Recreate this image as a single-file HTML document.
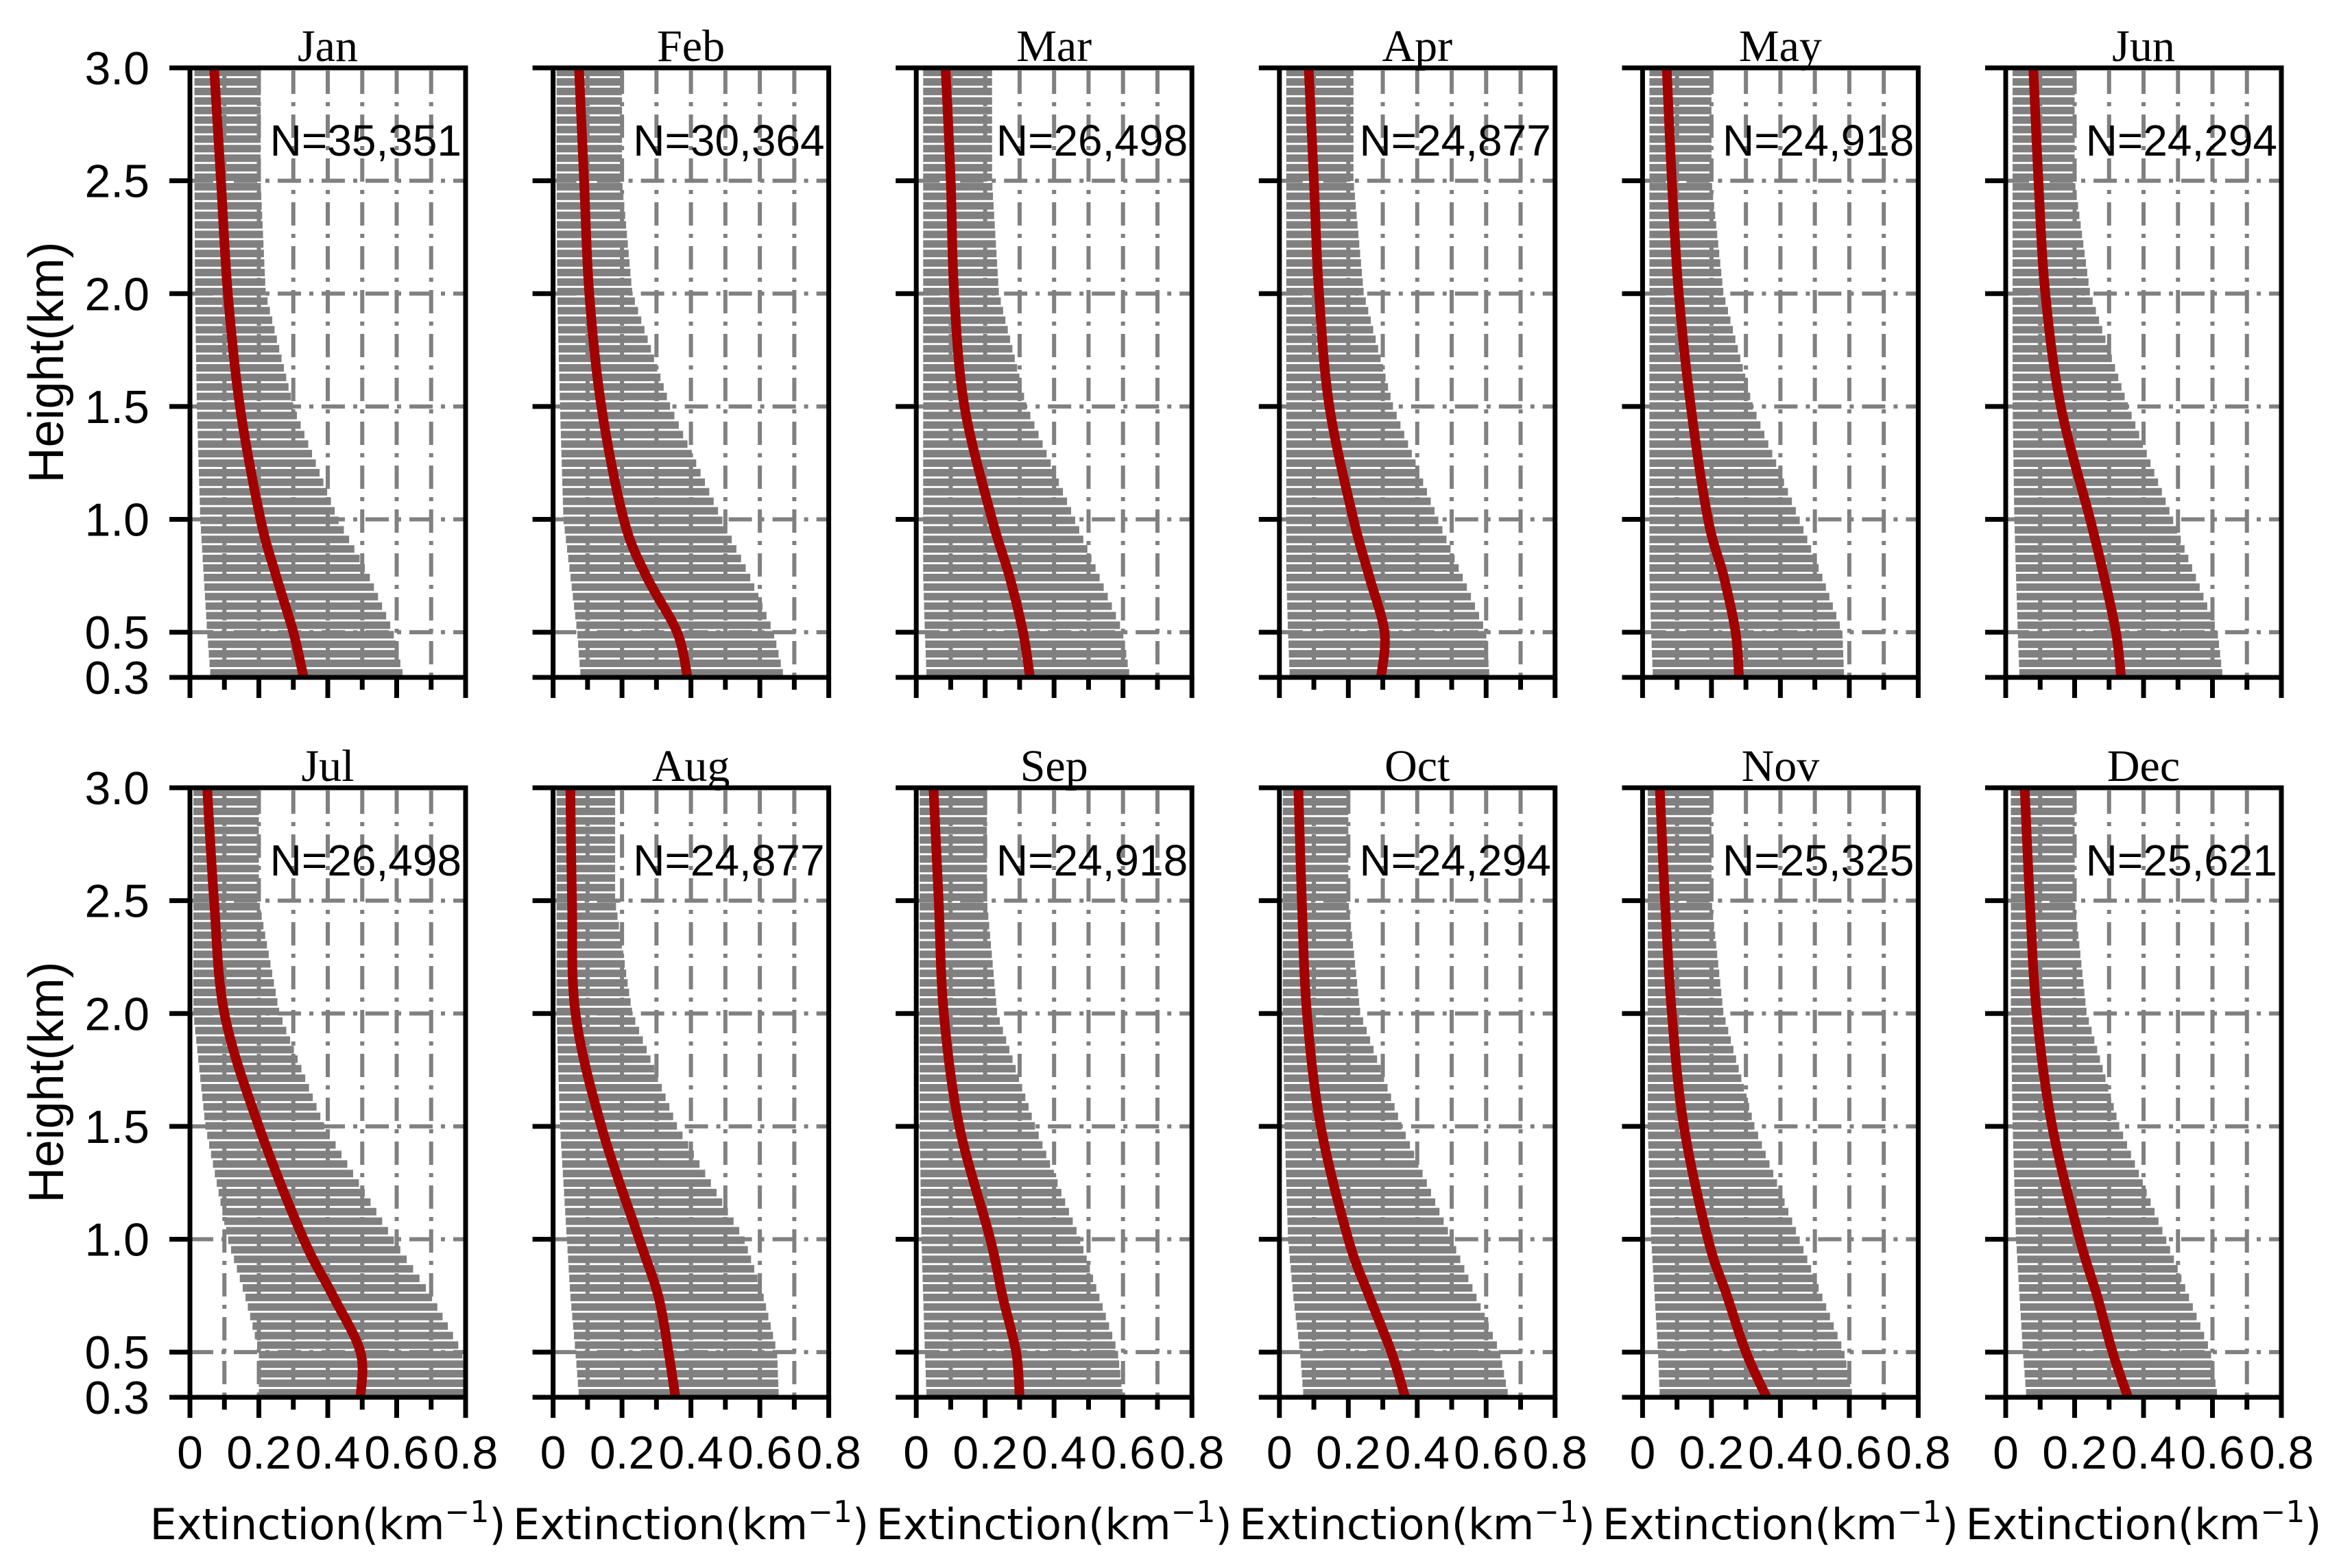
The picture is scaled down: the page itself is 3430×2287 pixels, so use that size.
<!DOCTYPE html>
<html><head><meta charset="utf-8">
<style>
html,body{margin:0;padding:0;background:#fff;}
svg{display:block;}
</style></head>
<body>
<svg id="chart" width="3430" height="2287" viewBox="0 0 3430 2287" xmlns="http://www.w3.org/2000/svg"></svg>
<script>
// ---- data ----
const months = ["Jan","Feb","Mar","Apr","May","Jun","Jul","Aug","Sep","Oct","Nov","Dec"];
const counts = ["N=35,351","N=30,364","N=26,498","N=24,877","N=24,918","N=24,294","N=26,498","N=24,877","N=24,918","N=24,294","N=25,325","N=25,621"];
const heights = [0.3, 0.5, 0.75, 1.0, 1.5, 2.0, 2.5, 3.0];
const meanExt = [
  [0.33,0.30,0.25,0.205,0.145,0.11,0.09,0.07],
  [0.39,0.36,0.27,0.205,0.14,0.105,0.09,0.075],
  [0.33,0.31,0.27,0.22,0.14,0.11,0.10,0.085],
  [0.295,0.305,0.26,0.215,0.145,0.115,0.10,0.085],
  [0.28,0.27,0.235,0.19,0.14,0.105,0.085,0.07],
  [0.335,0.32,0.285,0.245,0.16,0.115,0.095,0.08],
  [0.495,0.495,0.415,0.33,0.20,0.10,0.07,0.05],
  [0.355,0.335,0.305,0.25,0.14,0.065,0.055,0.05],
  [0.30,0.29,0.25,0.215,0.125,0.08,0.065,0.05],
  [0.365,0.325,0.26,0.20,0.12,0.08,0.065,0.055],
  [0.36,0.30,0.245,0.19,0.12,0.085,0.065,0.05],
  [0.355,0.31,0.265,0.215,0.135,0.09,0.07,0.055]
];
const upperExt = [
  [0.62,0.59,0.52,0.43,0.30,0.22,0.205,0.205],
  [0.67,0.64,0.57,0.49,0.34,0.23,0.20,0.20],
  [0.62,0.60,0.53,0.46,0.32,0.24,0.22,0.22],
  [0.61,0.60,0.53,0.46,0.33,0.245,0.215,0.215],
  [0.585,0.58,0.52,0.455,0.32,0.235,0.20,0.20],
  [0.63,0.615,0.55,0.485,0.355,0.245,0.20,0.20],
  [0.80,0.79,0.70,0.59,0.39,0.26,0.20,0.20],
  [0.655,0.65,0.61,0.555,0.36,0.23,0.18,0.18],
  [0.60,0.585,0.53,0.475,0.345,0.235,0.205,0.205],
  [0.665,0.64,0.57,0.50,0.355,0.235,0.20,0.20],
  [0.61,0.585,0.52,0.455,0.325,0.235,0.20,0.20],
  [0.615,0.595,0.53,0.465,0.33,0.235,0.20,0.20]
];
const lowerExt = [
  [0.06,0.05,0.04,0.03,0.02,0.015,0.013,0.013],
  [0.08,0.07,0.05,0.03,0.02,0.012,0.01,0.01],
  [0.03,0.025,0.02,0.02,0.02,0.02,0.02,0.02],
  [0.03,0.025,0.02,0.02,0.02,0.02,0.02,0.02],
  [0.03,0.025,0.02,0.02,0.02,0.02,0.02,0.02],
  [0.04,0.035,0.03,0.025,0.02,0.02,0.02,0.02],
  [0.20,0.20,0.16,0.11,0.045,0.01,0.01,0.01],
  [0.075,0.065,0.05,0.04,0.02,0.01,0.01,0.01],
  [0.03,0.025,0.02,0.015,0.01,0.01,0.01,0.01],
  [0.07,0.06,0.04,0.025,0.015,0.01,0.01,0.01],
  [0.05,0.045,0.035,0.025,0.015,0.015,0.015,0.015],
  [0.06,0.05,0.04,0.03,0.02,0.015,0.015,0.015]
];
const xTicks = [0,0.1,0.2,0.3,0.4,0.5,0.6,0.7,0.8];
const xTickLabels = ["0","","0.2","","0.4","","0.6","","0.8"];
const yTicks = [0.3,0.5,1.0,1.5,2.0,2.5,3.0];
const yTickLabels = ["0.3","0.5","1.0","1.5","2.0","2.5","3.0"];
const yGrid = [0.5,1.0,1.5,2.0,2.5];

// ---- layout ----
const NS = "http://www.w3.org/2000/svg";
const svg = document.getElementById('chart');
const W = 402, colStart = 277, colStep = 529.6;
const rowTop = [99, 1149], H = 889;
function mk(tag, attrs, parent){
  const e = document.createElementNS(NS, tag);
  for (const k in attrs) e.setAttribute(k, attrs[k]);
  (parent||svg).appendChild(e);
  return e;
}
function interp(h, xs){
  for (let i=0;i<heights.length-1;i++){
    if (h>=heights[i] && h<=heights[i+1]){
      const t=(h-heights[i])/(heights[i+1]-heights[i]);
      return xs[i]+t*(xs[i+1]-xs[i]);
    }
  }
  return xs[xs.length-1];
}
function smoothPath(p){
  let d = 'M'+p[0][0].toFixed(1)+','+p[0][1].toFixed(1);
  for (let i=0;i<p.length-1;i++){
    const p0=p[Math.max(0,i-1)], p1=p[i], p2=p[i+1], p3=p[Math.min(p.length-1,i+2)];
    const c1=[p1[0]+(p2[0]-p0[0])/6, p1[1]+(p2[1]-p0[1])/6];
    const c2=[p2[0]-(p3[0]-p1[0])/6, p2[1]-(p3[1]-p1[1])/6];
    d += ' C'+c1[0].toFixed(1)+','+c1[1].toFixed(1)+' '+c2[0].toFixed(1)+','+c2[1].toFixed(1)+' '+p2[0].toFixed(1)+','+p2[1].toFixed(1);
  }
  return d;
}

months.forEach((m, idx) => {
  const r = Math.floor(idx/6), c = idx%6;
  const x0 = colStart + c*colStep, y0 = rowTop[r];
  const xs = v => x0 + v/0.8*W;
  const ys = h => y0 + (3.0-h)/2.7*H;
  const g = mk('g', {});
  
  

  // error bars
  const bars = mk('g', {fill:'#808080'}, g);
  
  
  const nRows = 64;
  for (let i=0;i<nRows;i++){
    const h = 0.32 + i*(2.66/(nRows-1));
    const lo = interp(h, lowerExt[idx]), hi = interp(h, upperExt[idx]);
    const b = mk('rect', {x:xs(lo), y:ys(h)-5.5, width:Math.max(0,xs(hi)-xs(lo)), height:11}, bars);
    
    
  }

  // grid
  const grid = mk('g', {stroke:'#808080','stroke-width':6,'stroke-dasharray':'34 12 6 12'}, g);
  
  
  xTicks.forEach(v => { if (v>0 && v<0.8) mk('line',{x1:xs(v),x2:xs(v),y1:y0+4,y2:y0+H},grid); });
  yGrid.forEach(h => mk('line',{x1:x0,x2:x0+W,y1:ys(h),y2:ys(h)},grid));

  // mean line
  const pts = heights.map((h,i)=>[xs(meanExt[idx][i]), ys(h)]);
  const pl = mk('path',{d:smoothPath(pts),fill:'none',stroke:'#a30000','stroke-width':14,'stroke-linejoin':'round'}, g);
  
  

  // frame
  const fr = mk('rect',{x:x0,y:y0,width:W,height:H,fill:'none',stroke:'#000','stroke-width':7}, g);
  
  

  // x ticks
  xTicks.forEach((v,i)=>{
    const major = i%2===0;
    mk('line',{x1:xs(v),x2:xs(v),y1:y0+H,y2:y0+H+(major?30:18),stroke:'#000','stroke-width':7},g);
    if (r===1 && xTickLabels[i]){
      const t = mk('text',{x:xs(v),y:y0+H+104,'text-anchor':'middle','font-family':'"Liberation Sans",sans-serif','font-size':68,fill:'#000'},g);
      t.textContent = xTickLabels[i];
      
      
    }
  });
  // y ticks
  yTicks.forEach((h,i)=>{
    mk('line',{x1:x0-30,x2:x0,y1:ys(h),y2:ys(h),stroke:'#000','stroke-width':7},g);
    if (c===0){
      const t = mk('text',{x:218,y:ys(h)+24,'text-anchor':'end','font-family':'"Liberation Sans",sans-serif','font-size':68,fill:'#000'},g);
      t.textContent = yTickLabels[i];
      
      
    }
  });

  // title
  const tt = mk('text',{x:x0+W/2,y:y0-10,'text-anchor':'middle','font-family':'"Liberation Serif",serif','font-size':66,fill:'#000'},g);
  tt.textContent = m;
  
  

  // N label
  const nt = mk('text',{x:x0+W-6,y:y0+128,'text-anchor':'end','font-family':'"Liberation Sans",sans-serif','font-size':64,fill:'#000'},g);
  nt.textContent = counts[idx];
  
  

  // x axis title
  if (r===1){
    const xt = mk('text',{x:x0+W/2,y:2245,'text-anchor':'middle','font-family':'"DejaVu Sans","Liberation Sans",sans-serif','font-size':62,fill:'#000'},g);
    
    
    xt.appendChild(document.createTextNode('Extinction(km'));
    const sup = document.createElementNS(NS,'tspan');
    sup.setAttribute('dy','-25'); sup.setAttribute('font-size','44');
    sup.textContent = '−1';
    xt.appendChild(sup);
    const cl = document.createElementNS(NS,'tspan');
    cl.setAttribute('dy','25');
    cl.textContent = ')';
    xt.appendChild(cl);
  }
  // y axis title
  if (c===0){
    const yc = y0+H/2 - 15;
    const yt = mk('text',{x:92,y:yc,'text-anchor':'middle','font-family':'"Liberation Sans",sans-serif','font-size':72,fill:'#000',transform:'rotate(-90 92 '+yc+')'},g);
    yt.textContent = 'Height(km)';
    
    
  }
});
</script>
</body></html>
